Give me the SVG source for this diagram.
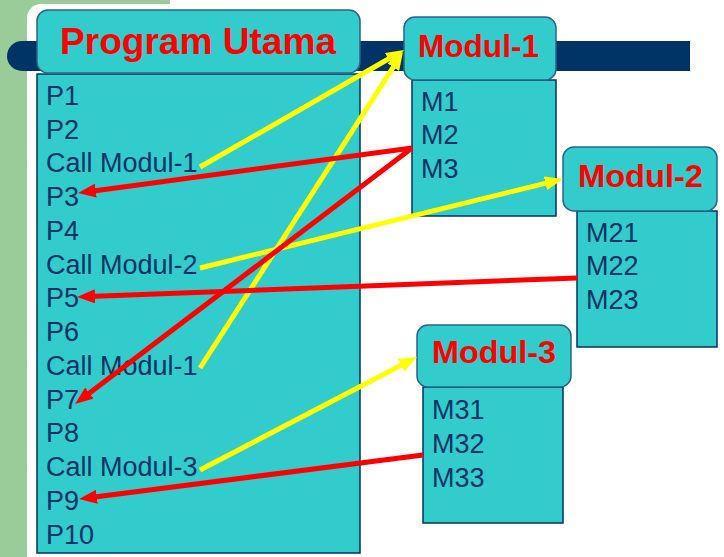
<svg xmlns="http://www.w3.org/2000/svg" width="724" height="557" viewBox="0 0 724 557">
<style>
.hdr{fill:#33CCCC;stroke:#2A6488;stroke-width:1.5}
.body{fill:#33CCCC;stroke:#003366;stroke-width:1.5}
.ht{font-family:"Liberation Sans",Arial,sans-serif;font-weight:bold;fill:#FF0000}
.bt{font-family:"Liberation Sans",Arial,sans-serif;font-size:27px;fill:#003366}
.y{stroke:#FFFF00;stroke-width:5;fill:none;marker-end:url(#ya)}
.r{stroke:#FF0000;stroke-width:5;fill:none;marker-end:url(#ra)}
</style>
<defs>
<marker id="ya" markerUnits="userSpaceOnUse" markerWidth="18" markerHeight="14" refX="6" refY="7" orient="auto"><path d="M0,0 L18,7 L0,14 z" fill="#FFFF00"/></marker>
<marker id="ra" markerUnits="userSpaceOnUse" markerWidth="18" markerHeight="14" refX="6" refY="7" orient="auto"><path d="M0,0 L18,7 L0,14 z" fill="#FF0000"/></marker>
</defs>
<g id="background">
<rect x="0" y="0" width="724" height="557" fill="#FFFFFF"/>
<rect x="0" y="0" width="27" height="557" fill="#99CC99"/>
<rect x="0" y="0" width="170" height="18" fill="#99CC99"/>
<rect x="27" y="4" width="760" height="600" rx="14" fill="#FFFFFF"/>
<path d="M22,41 H690 V71 H22 A15,15 0 0 1 22,41 Z" fill="#003366"/>
</g>
<g id="program-utama">
<rect class="body" x="37" y="74" width="323" height="479"/>
<rect class="hdr" x="37" y="10" width="323" height="63" rx="11"/>
<text class="ht" x="60" y="54" font-size="36" textLength="276" lengthAdjust="spacingAndGlyphs">Program Utama</text>
<text class="bt" x="46" y="105">P1</text>
<text class="bt" x="46" y="139">P2</text>
<text class="bt" x="46" y="172">Call Modul-1</text>
<text class="bt" x="46" y="206">P3</text>
<text class="bt" x="46" y="240">P4</text>
<text class="bt" x="46" y="274">Call Modul-2</text>
<text class="bt" x="46" y="307">P5</text>
<text class="bt" x="46" y="341">P6</text>
<text class="bt" x="46" y="375">Call Modul-1</text>
<text class="bt" x="46" y="409">P7</text>
<text class="bt" x="46" y="442">P8</text>
<text class="bt" x="46" y="476">Call Modul-3</text>
<text class="bt" x="46" y="510">P9</text>
<text class="bt" x="46" y="544">P10</text>
</g>
<g id="modul-1">
<rect class="body" x="412" y="80" width="144" height="136"/>
<rect class="hdr" x="404" y="17" width="152" height="63" rx="11"/>
<text class="ht" x="418" y="57" font-size="32" textLength="121" lengthAdjust="spacingAndGlyphs">Modul-1</text>
<text class="bt" x="421" y="111">M1</text>
<text class="bt" x="421" y="144">M2</text>
<text class="bt" x="421" y="178">M3</text>
</g>
<g id="modul-2">
<rect class="body" x="577" y="211" width="140" height="136"/>
<rect class="hdr" x="563" y="147" width="154" height="64" rx="11"/>
<text class="ht" x="578" y="187" font-size="32" textLength="125" lengthAdjust="spacingAndGlyphs">Modul-2</text>
<text class="bt" x="586" y="242">M21</text>
<text class="bt" x="586" y="275">M22</text>
<text class="bt" x="586" y="309">M23</text>
</g>
<g id="modul-3">
<rect class="body" x="423" y="387" width="140" height="136"/>
<rect class="hdr" x="417" y="325" width="154" height="62" rx="11"/>
<text class="ht" x="432" y="363" font-size="32" textLength="124" lengthAdjust="spacingAndGlyphs">Modul-3</text>
<text class="bt" x="432" y="419">M31</text>
<text class="bt" x="432" y="453">M32</text>
<text class="bt" x="432" y="487">M33</text>
</g>
<g id="connectors">
<line class="y" x1="200" y1="167" x2="393.6" y2="56"/>
<line class="y" x1="200" y1="368" x2="396.5" y2="62.1"/>
<line class="y" x1="200" y1="268" x2="551.3" y2="181.9"/>
<line class="y" x1="200" y1="470" x2="406.4" y2="362.5"/>
<line class="r" x1="412" y1="148" x2="89.9" y2="191.4"/>
<line class="r" x1="412" y1="148" x2="84.6" y2="396.7"/>
<line class="r" x1="577" y1="278" x2="89" y2="296.5"/>
<line class="r" x1="423" y1="455" x2="90.9" y2="497.5"/>
</g>
</svg>
